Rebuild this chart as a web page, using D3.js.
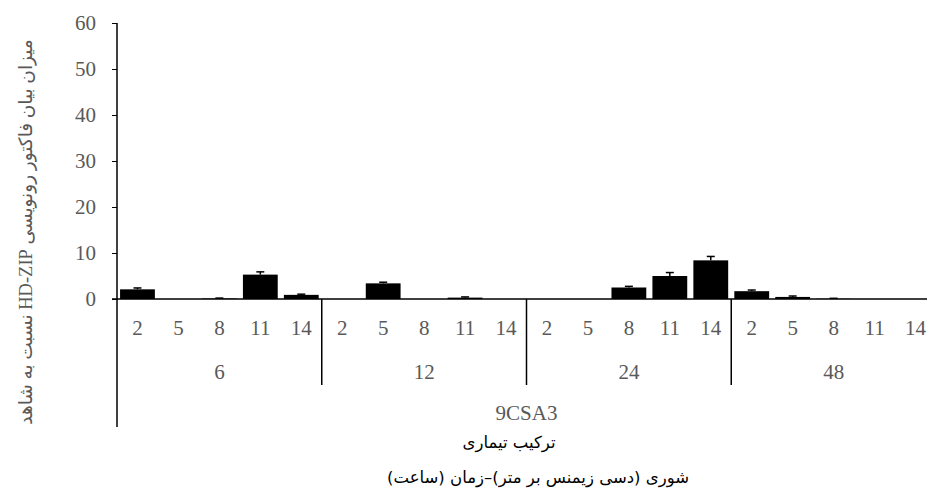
<!DOCTYPE html>
<html>
<head>
<meta charset="utf-8">
<script src="https://cdn.jsdelivr.net/npm/d3@7"></script>
<style>
  body { margin: 0; background: #fff; }
  #chart { position: relative; width: 927px; height: 502px; }
  svg { display: block; }
  .title {
    position: absolute;
    width: 400px;
    text-align: center;
    direction: rtl;
    font-family: 'DejaVu Sans', sans-serif;
    font-size: 16.5px;
    line-height: 20px;
    color: #000;
    white-space: nowrap;
  }
</style>
</head>
<body>
<div id="chart"></div>
<script>
// time groups (hours) and salinity levels (dS/m)
const groups = ["6", "12", "24", "48"];
const salinity = ["2", "5", "8", "11", "14"];
const treatment = "9CSA3";
// relative expression, in group order then salinity order
const values = [2.1, 0, 0.1, 5.3, 0.9,  0, 3.4, 0, 0.3, 0,  0, 0, 2.5, 5.0, 8.4,  1.7, 0.45, 0.05, 0, 0];
const errors = [0.3, 0, 0.1, 0.6, 0.15,  0, 0.25, 0, 0.15, 0,  0, 0, 0.25, 0.75, 0.85,  0.25, 0.2, 0.1, 0, 0];
const yTicks = [0, 10, 20, 30, 40, 50, 60];

const W = 927, H = 502;
const gray = "#595959";
const serif = "'Liberation Serif', 'Times New Roman', serif";

const svg = d3.select("#chart").append("svg")
  .attr("width", W)
  .attr("height", H);

let data = [];
groups.forEach((g, gi) => {
  salinity.forEach((s, si) => {
    let i = gi * salinity.length + si;
    data.push({ key: g + "-" + s, group: g, sal: s, value: values[i], err: errors[i] });
  });
});

const x = d3.scaleBand()
  .domain(data.map(d => d.key))
  .range([117, 936])
  .paddingInner(0.15)
  .paddingOuter(0.075);

const y = d3.scaleLinear()
  .domain([0, 60])
  .range([299, 23]);

// y axis (ticks and labels only, line drawn below)
const yAxis = svg.append("g")
  .attr("transform", "translate(117,0)")
  .call(d3.axisLeft(y).tickValues(yTicks).tickSize(5).tickPadding(16));
yAxis.select(".domain").remove();
yAxis.selectAll("line").attr("stroke", "#000");
yAxis.selectAll("text")
  .attr("fill", gray)
  .style("font-family", serif)
  .style("font-size", "21px");

// bars
svg.append("g").selectAll("rect")
  .data(data)
  .join("rect")
  .attr("x", d => x(d.key))
  .attr("y", d => y(d.value))
  .attr("width", x.bandwidth())
  .attr("height", d => y(0) - y(d.value))
  .attr("fill", "#000");

// error bars
const eb = svg.append("g").selectAll("g")
  .data(data.filter(d => d.err > 0))
  .join("g")
  .attr("stroke", "#000")
  .attr("stroke-width", 1.5);
eb.append("line")
  .attr("x1", d => x(d.key) + x.bandwidth() / 2)
  .attr("x2", d => x(d.key) + x.bandwidth() / 2)
  .attr("y1", d => y(d.value))
  .attr("y2", d => y(d.value + d.err));
eb.append("line")
  .attr("x1", d => x(d.key) + x.bandwidth() / 2 - 4)
  .attr("x2", d => x(d.key) + x.bandwidth() / 2 + 4)
  .attr("y1", d => y(d.value + d.err))
  .attr("y2", d => y(d.value + d.err));

// axis lines
svg.append("line")
  .attr("x1", 117).attr("x2", 117)
  .attr("y1", y(60)).attr("y2", 427)
  .attr("stroke", "#000").attr("stroke-width", 1.5);
svg.append("line")
  .attr("x1", 112).attr("x2", 936)
  .attr("y1", y(0)).attr("y2", y(0))
  .attr("stroke", "#000").attr("stroke-width", 1.5);

// multi level category labels
const step = x.step();
svg.append("g").selectAll("text")
  .data(data)
  .join("text")
  .attr("x", d => x(d.key) + x.bandwidth() / 2)
  .attr("y", 335)
  .attr("text-anchor", "middle")
  .attr("fill", gray)
  .style("font-family", serif)
  .style("font-size", "21px")
  .text(d => d.sal);

const groupStart = g => x(g + "-" + salinity[0]) - x.step() * x.paddingOuter();
const groupW = step * salinity.length;

svg.append("g").selectAll("text")
  .data(groups)
  .join("text")
  .attr("x", g => groupStart(g) + groupW / 2)
  .attr("y", 379)
  .attr("text-anchor", "middle")
  .attr("fill", gray)
  .style("font-family", serif)
  .style("font-size", "21px")
  .text(g => g);

// group dividers
svg.append("g").selectAll("line")
  .data(groups.slice(1))
  .join("line")
  .attr("x1", g => groupStart(g)).attr("x2", g => groupStart(g))
  .attr("y1", y(0)).attr("y2", 385)
  .attr("stroke", "#000").attr("stroke-width", 1.5);

svg.append("text")
  .attr("x", (117 + 936) / 2)
  .attr("y", 420)
  .attr("text-anchor", "middle")
  .attr("fill", gray)
  .style("font-family", serif)
  .style("font-size", "21px")
  .text(treatment);

// x titles as html; offsets tuned by eye since the arabic run measures wider than it draws
d3.select("#chart").append("div")
  .attr("class", "title")
  .style("left", (509 - 200) + "px")
  .style("top", "433px")
  .text("ترکیب تیماری");

d3.select("#chart").append("div")
  .attr("class", "title")
  .style("left", (538 - 200) + "px")
  .style("top", "468px")
  .text("شوری (دسی زیمنس بر متر)–زمان (ساعت)");

const yt = svg.append("text")
  .attr("transform", "translate(26,232) rotate(-90)")
  .attr("text-anchor", "middle")
  .attr("dy", "0.35em")
  .attr("direction", "rtl")
  .attr("fill", gray)
  .style("font-family", "'Liberation Serif', 'DejaVu Sans', serif")
  .style("font-size", "18.5px")
  .text("میزان بیان فاکتور رونویسی HD-ZIP نسبت به شاهد");
</script>
</body>
</html>
